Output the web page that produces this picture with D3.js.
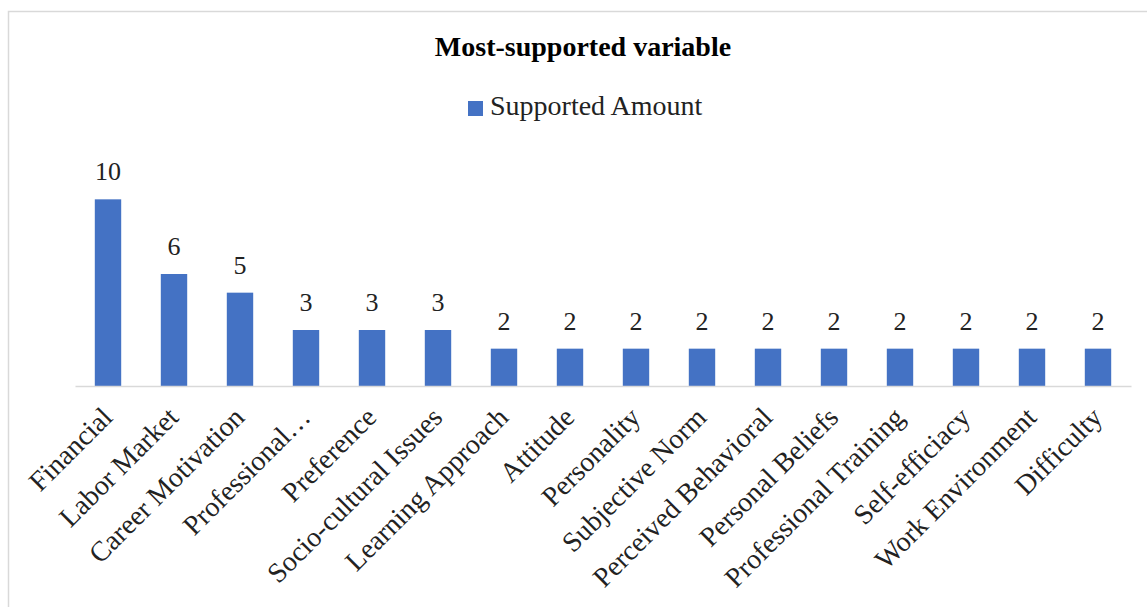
<!DOCTYPE html>
<html>
<head>
<meta charset="utf-8">
<script src="https://cdn.jsdelivr.net/npm/d3@7"></script>
<style>
  body { margin: 0; background: #fff; }
  text { font-family: "Liberation Serif", "DejaVu Serif", serif; }
</style>
</head>
<body>
<div id="barchart"></div>
<script>
// chart data
const categories = ["Financial", "Labor Market", "Career Motivation", "Professional\u2026", "Preference",
  "Socio-cultural Issues", "Learning Approach", "Attitude", "Personality", "Subjective Norm",
  "Perceived Behavioral", "Personal Beliefs", "Professional Training", "Self-efficiacy",
  "Work Environment", "Difficulty"];
const amounts = [10, 6, 5, 3, 3, 3, 2, 2, 2, 2, 2, 2, 2, 2, 2, 2];
const seriesName = "Supported Amount";
const titleText = "Most-supported variable";

const width = 1147;
const height = 607;
const margin = {top: 162, right: 16, bottom: 221, left: 75};
const baseY = height - margin.bottom;

const data = categories.map((c, i) => ({name: c, value: amounts[i]}));

const x = d3.scaleBand()
  .domain(categories)
  .range([margin.left, width - margin.right])
  .paddingInner(0.6)
  .paddingOuter(0.3);

const y = d3.scaleLinear()
  .domain([0, 12])
  .range([baseY, margin.top]);

const svg = d3.select("#barchart")
  .append("svg")
  .attr("width", width)
  .attr("height", height);

// outer border
svg.append("rect")
  .attr("x", 8.5).attr("y", 11.5)
  .attr("width", 1160).attr("height", 620)
  .attr("fill", "none")
  .attr("stroke", "#d9d9d9")
  .attr("stroke-width", 1.5);

svg.append("text")
  .attr("x", 583).attr("y", 56)
  .attr("text-anchor", "middle")
  .style("font-size", "28px")
  .style("font-weight", "bold")
  .text(titleText);

// legend
svg.append("rect")
  .attr("x", 468).attr("y", 101)
  .attr("width", 15).attr("height", 15)
  .attr("fill", "#4472c4");
svg.append("text")
  .attr("x", 490).attr("y", 115)
  .style("font-size", "28px")
  .attr("fill", "#222")
  .text(seriesName);

svg.selectAll(".bar")
  .data(data)
  .enter().append("rect")
  .attr("class", "bar")
  .attr("x", d => x(d.name))
  .attr("y", d => y(d.value))
  .attr("width", x.bandwidth())
  .attr("height", d => baseY - y(d.value))
  .attr("fill", "#4472c4");

svg.selectAll(".val")
  .data(data)
  .enter().append("text")
  .attr("class", "val")
  .attr("x", d => x(d.name) + x.bandwidth() / 2)
  .attr("y", d => y(d.value) - 19)
  .attr("text-anchor", "middle")
  .style("font-size", "26px")
  .attr("fill", "#222")
  .text(d => d.value);

// baseline axis
const xAxis = svg.append("g")
  .attr("transform", `translate(0,${baseY})`)
  .call(d3.axisBottom(x).tickSize(0).tickPadding(0));
xAxis.select(".domain").attr("stroke", "#d9d9d9").attr("stroke-width", 1.5);
xAxis.selectAll(".tick text")
  .style("font-size", "28px")
  .style("font-family", "'Liberation Serif', serif")
  .attr("fill", "#222")
  .attr("text-anchor", "end")
  .attr("y", 0)
  .attr("dy", 0)
  .attr("transform", "translate(6,33) rotate(-45)");
</script>
</body>
</html>
